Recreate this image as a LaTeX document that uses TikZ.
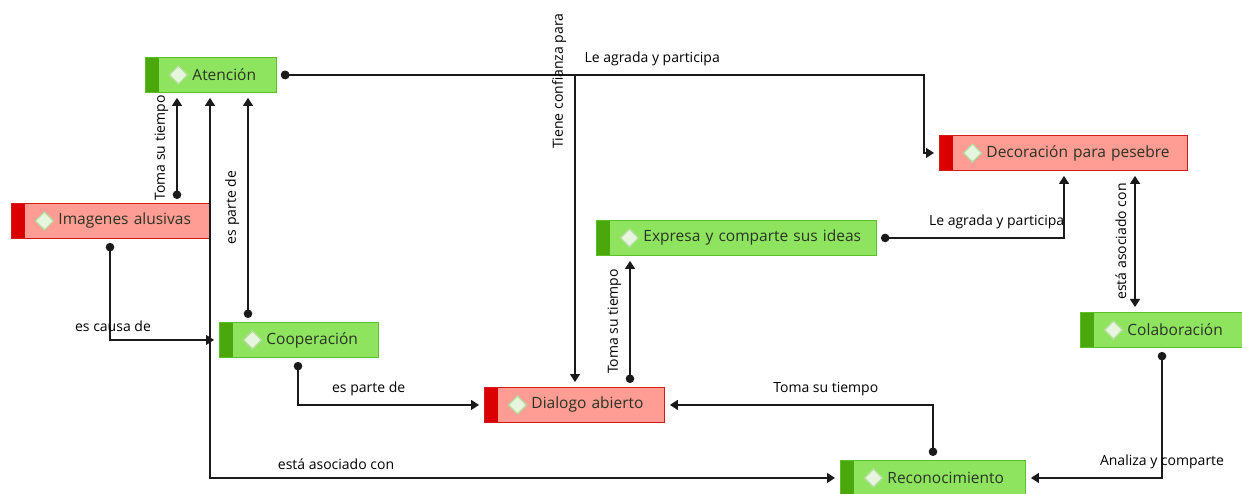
\documentclass[tikz,border=0pt]{standalone}
\usepackage{fontspec}
\setmainfont{Open Sans}
\usetikzlibrary{arrows.meta,calc}
\definecolor{gfill}{HTML}{8EE45F}
\definecolor{gdark}{HTML}{4AA80C}
\definecolor{gline}{HTML}{5EBE28}
\definecolor{rfill}{HTML}{FF9C93}
\definecolor{rdark}{HTML}{DA0000}
\definecolor{rline}{HTML}{D21A1A}
\definecolor{dfill}{HTML}{E6F5DD}
\definecolor{dline}{HTML}{B5DC9E}
\definecolor{txt}{HTML}{2A3426}
\definecolor{lc}{HTML}{1A1A1A}
\tikzset{
  box/.style={rectangle, minimum height=35pt, inner xsep=0pt, inner ysep=0pt,
    align=left, anchor=north west, font=\fontsize{15.5}{17}\selectfont, text=txt, line width=0.9pt},
  diam/.style={draw=dline, fill=dfill, line width=1.2pt},
  gbox/.style={box, draw=gline, fill=gfill, path picture={
      \fill[gdark] (path picture bounding box.north west) rectangle ([xshift=14pt]path picture bounding box.south west);
      \path[diam] ([xshift=24pt]path picture bounding box.west) -- ++(9pt,9pt) -- ++(9pt,-9pt) -- ++(-9pt,-9pt) -- cycle;}},
  rbox/.style={box, draw=rline, fill=rfill, path picture={
      \fill[rdark] (path picture bounding box.north west) rectangle ([xshift=14pt]path picture bounding box.south west);
      \path[diam] ([xshift=24pt]path picture bounding box.west) -- ++(9pt,9pt) -- ++(9pt,-9pt) -- ++(-9pt,-9pt) -- cycle;}},
  rel/.style={draw=lc, line width=1.3pt, {Circle[length=8.5pt]}-{Triangle[length=8pt,width=10pt]}, shorten <=4pt, shorten >=5pt},
  both/.style={draw=lc, line width=1.3pt, {Triangle[length=8pt,width=10pt]}-{Triangle[length=8pt,width=10pt]}, shorten <=5pt, shorten >=5pt},
  lab/.style={font=\fontsize{14}{16}\selectfont, text=black, inner xsep=2pt, inner ysep=8pt},
  vlab/.style={lab, rotate=90, anchor=south},
}
\begin{document}
\begin{tikzpicture}[x=1pt,y=-1pt]
\useasboundingbox (0,0) rectangle (1242,494);
\clip (0,0) rectangle (1242,494);
% nodes
\node[gbox, text width=131pt] (aten) at (145,57) {\hspace*{47pt}Atención};
\node[rbox, text width=198pt] (img) at (11,203) {\hspace*{47pt}Imagenes alusivas};
\node[gbox, text width=159pt] (coop) at (219,322) {\hspace*{47pt}Cooperación};
\node[rbox, text width=248pt] (deco) at (939,135) {\hspace*{47pt}Decoración para pesebre};
\node[gbox, text width=280pt] (expr) at (596,220) {\hspace*{47pt}Expresa y comparte sus ideas};
\node[rbox, text width=180pt] (dial) at (484,387) {\hspace*{47pt}Dialogo abierto};
\node[gbox, text width=170pt] (cola) at (1080,312) {\hspace*{47pt}Colaboración};
\node[gbox, text width=185pt] (reco) at (840,460) {\hspace*{47pt}Reconocimiento};
% connectors
\draw[rel] ([xshift=166pt]img.north west) coordinate (s1) -- node[vlab, midway] {Toma su tiempo} (s1 |- aten.south);
\draw[rel] ([xshift=29pt]coop.north west) coordinate (s2) -- node[vlab, midway] {es parte de} (s2 |- aten.south);
\draw[both] ([xshift=65pt]aten.south west) |- node[lab, pos=0.6, above] {está asociado con} (reco.west);
\draw[rel] ([xshift=99pt]img.south west) |- node[lab, pos=0.5, above, xshift=3pt] {es causa de} (coop.west);
\draw[rel] ([xshift=79pt]coop.south west) |- node[lab, pos=0.69, above] {es parte de} (dial.west);
\draw[rel] (aten.east) -| node[lab, pos=0.29, above] {Le agrada y participa} ([xshift=-15pt]deco.west) -- (deco.west);
\draw[rel] (aten.east) -| node[vlab, pos=0.51] {Tiene confianza para} ([xshift=91pt]dial.north west);
\draw[rel] ([xshift=146pt]dial.north west) coordinate (s8) -- node[vlab, midway] {Toma su tiempo} (s8 |- expr.south);
\draw[rel] (expr.east) -| node[lab, pos=0.32, above] {Le agrada y participa} ([xshift=125pt]deco.south west);
\draw[both] ([xshift=196pt]deco.south west) coordinate (s10) -- node[vlab, midway] {está asociado con} (s10 |- cola.north);
\draw[rel] ([xshift=82pt]cola.south west) |- node[lab, pos=0.5, above] {Analiza y comparte} (reco.east);
\draw[rel] ([xshift=93pt]reco.north west) |- node[lab, pos=0.7, above] {Toma su tiempo} (dial.east);
\end{tikzpicture}
\end{document}
